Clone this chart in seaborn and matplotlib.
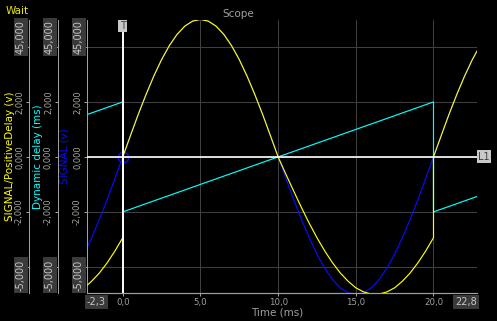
import matplotlib
matplotlib.use('Agg')
import matplotlib.pyplot as plt
import seaborn as sns
from matplotlib.transforms import blended_transform_factory

# ---------------- data ----------------
time_signal = [-2.3, -2.0, -1.5, -1.0, -0.5, 0.0, 0.5, 1.0, 1.5, 2.0, 2.5, 3.0, 3.5, 4.0, 4.5,
               5.0, 5.5, 6.0, 6.5, 7.0, 7.5, 8.0, 8.5, 9.0, 9.5, 10.0, 10.5, 11.0, 11.5, 12.0,
               12.5, 13.0, 13.5, 14.0, 14.5, 15.0, 15.5, 16.0, 16.5, 17.0, 17.5, 18.0, 18.5,
               19.0, 19.5, 20.0, 20.5, 21.0, 21.5, 22.0, 22.5, 22.8]
signal_v = [-3.31, -2.94, -2.27, -1.55, -0.78, 0.00, 0.78, 1.55, 2.27, 2.94, 3.54, 4.05, 4.46,
            4.76, 4.94, 5.00, 4.94, 4.76, 4.46, 4.05, 3.54, 2.94, 2.27, 1.55, 0.78, 0.00, -0.78,
            -1.55, -2.27, -2.94, -3.54, -4.05, -4.46, -4.76, -4.94, -5.00, -4.94, -4.76, -4.46,
            -4.05, -3.54, -2.94, -2.27, -1.55, -0.78, 0.00, 0.78, 1.55, 2.27, 2.94, 3.54, 3.85]

time_positive = [-2.3, -2.0, -1.5, -1.0, -0.5, 0.0, 0.0, 0.5, 1.0, 1.5, 2.0, 2.5, 3.0, 3.5, 4.0,
                 4.5, 5.0, 5.5, 6.0, 6.5, 7.0, 7.5, 8.0, 8.5, 9.0, 9.5, 10.0, 10.5, 11.0, 11.5,
                 12.0, 12.5, 13.0, 13.5, 14.0, 14.5, 15.0, 15.5, 16.0, 16.5, 17.0, 17.5, 18.0,
                 18.5, 19.0, 19.5, 20.0, 20.0, 20.5, 21.0, 21.5, 22.0, 22.5, 22.8]
positive_delay_v = [-4.67, -4.52, -4.22, -3.85, -3.42, -2.94, 0.00, 0.78, 1.55, 2.27, 2.94, 3.54,
                    4.05, 4.46, 4.76, 4.94, 5.00, 4.94, 4.76, 4.46, 4.05, 3.54, 2.94, 2.27, 1.55,
                    0.78, 0.00, -0.63, -1.24, -1.84, -2.41, -2.94, -3.42, -3.85, -4.22, -4.52,
                    -4.76, -4.91, -4.99, -4.99, -4.91, -4.76, -4.52, -4.22, -3.85, -3.42, -2.94,
                    0.00, 0.78, 1.55, 2.27, 2.94, 3.54, 3.85]

time_delay = [-2.3, 0.0, 0.0, 20.0, 20.0, 22.8]
dynamic_delay_ms = [1.54, 2.00, -2.00, 2.00, -2.00, -1.44]

trigger_time = 0.0
trigger_level = 0.0

x_range = [-2.3, 22.8]
x_range_labels = ['-2,3', '22,8']
x_ticks = [0, 5, 10, 15, 20]
x_tick_labels = ['0,0', '5,0', '10,0', '15,0', '20,0']
y_range = [-4.95, 4.98]
y_ticks = [-4, -2, 0, 2, 4]
y_tick_labels = ['', '-2,000', '0,000', '2,000', '']
y_end_labels = ['45,000', '-5,000']

# ---------------- style ----------------
sns.set_theme(style='dark')
plt.rcParams['font.family'] = ['DejaVu Sans']

PX = 0.72  # points per pixel at dpi=100
W, H = 497, 321
GRAY = '#a0a0a0'
YELLOW = '#ffff00'
CYAN = '#00ffff'
BLUE = '#0a0aff'

fig = plt.figure(figsize=(W / 100, H / 100), dpi=100, facecolor='black')
ax = fig.add_axes([87 / W, 28 / H, 390 / W, 273 / H])
ax.set_facecolor('black')
tw_delay = ax.twinx()
tw_pos = ax.twinx()

axes_list = [(ax, 0, 'SIGNAL (v)', BLUE, -0.046),
             (tw_delay, 29, 'Dynamic delay (ms)', CYAN, -0.112),
             (tw_pos, 58, 'SIGNAL/PositiveDelay (v)', YELLOW, -0.184)]

for a, off, lab, col, lx in axes_list:
    a.set_xlim(x_range)
    a.set_ylim(y_range)
    for s in ['top', 'right', 'bottom']:
        a.spines[s].set_visible(False)
    a.spines['left'].set_visible(True)
    a.spines['left'].set_color(GRAY)
    a.spines['left'].set_linewidth(1.0 * PX)
    if a is not ax:
        a.yaxis.tick_left()
        a.yaxis.set_label_position('left')
        a.spines['left'].set_position(('outward', off * PX))
    a.set_yticks(y_ticks)
    a.set_yticklabels(y_tick_labels, rotation=90, va='center')
    a.tick_params(axis='y', which='both', left=True, right=False, direction='out',
                  length=3 * PX, width=PX, color=GRAY, pad=2 * PX,
                  labelsize=6, labelcolor='#a8a8a0')
    a.set_ylabel(lab, color=col, fontsize=7.5)
    a.yaxis.set_label_coords(lx, 0.5)
    # boxed end-of-range labels
    sx = 87 - off
    fig.text((sx - 8) / W, 1 - 37 / H, y_end_labels[0], rotation=90, ha='center', va='center',
             fontsize=7, color='#c8c8c8',
             bbox=dict(boxstyle='square,pad=0.2', facecolor='#3a3a3a', edgecolor='none'))
    fig.text((sx - 8) / W, 1 - 275 / H, y_end_labels[1], rotation=90, ha='center', va='center',
             fontsize=7, color='#c8c8c8',
             bbox=dict(boxstyle='square,pad=0.2', facecolor='#3a3a3a', edgecolor='none'))

ax.spines['bottom'].set_visible(True)
ax.spines['bottom'].set_color(GRAY)
ax.spines['bottom'].set_linewidth(1.2 * PX)
ax.set_xticks(x_ticks)
ax.set_xticklabels(x_tick_labels)
ax.tick_params(axis='x', bottom=True, direction='out', length=3 * PX, width=PX, color=GRAY,
               pad=1.5, labelsize=6.2, labelcolor=GRAY)
ax.grid(True, color='#404040', linewidth=PX)
ax.set_axisbelow(True)
ax.set_xlabel('Time (ms)', color=GRAY, fontsize=7.5)
ax.xaxis.set_label_coords(0.487, -0.052)

# ---------------- data lines ----------------
sns.lineplot(x=time_signal, y=signal_v, ax=ax, estimator=None, sort=False,
             color=BLUE, linewidth=0.85)
sns.lineplot(x=time_delay, y=dynamic_delay_ms, ax=tw_delay, estimator=None, sort=False,
             color=CYAN, linewidth=0.85)
sns.lineplot(x=time_positive, y=positive_delay_v, ax=tw_pos, estimator=None, sort=False,
             color=YELLOW, linewidth=0.85)
ax.plot([trigger_time], [trigger_level], marker='o', mfc='none', mec=BLUE, ms=7.5, mew=1.0,
        linestyle='none')

for a in [ax, tw_delay, tw_pos]:
    a.set_xlim(x_range)
    a.set_ylim(y_range)

tw_pos.axvline(trigger_time, color='white', linewidth=1.4, zorder=6)
tw_pos.axhline(trigger_level, color='white', linewidth=1.2, zorder=6)

# ---------------- annotations ----------------
tr_top = blended_transform_factory(ax.transData, fig.transFigure)
tw_pos.text(trigger_time, 1 - 26 / H, 'T', transform=tr_top, ha='center', va='center',
            fontsize=7, color='#404040', zorder=7,
            bbox=dict(boxstyle='square,pad=0.15', facecolor='#c8c8c8', edgecolor='none'))
tr_right = blended_transform_factory(ax.transAxes, ax.transData)
tw_pos.text(1.003, trigger_level, 'L1', transform=tr_right, ha='left', va='center',
            fontsize=7, color='#404040', zorder=7,
            bbox=dict(boxstyle='square,pad=0.15', facecolor='#c8c8c8', edgecolor='none'),
            clip_on=False)

tr_bot = blended_transform_factory(ax.transData, fig.transFigure)
ax.text(x_range[0], 1 - 302 / H, x_range_labels[0], transform=tr_bot, ha='left', va='center',
        fontsize=7, color='#c8c8c8', clip_on=False,
        bbox=dict(boxstyle='square,pad=0.25', facecolor='#3a3a3a', edgecolor='none'))
ax.text(x_range[1], 1 - 302 / H, x_range_labels[1], transform=tr_bot, ha='right', va='center',
        fontsize=7, color='#c8c8c8', clip_on=False,
        bbox=dict(boxstyle='square,pad=0.25', facecolor='#3a3a3a', edgecolor='none'))

fig.text(238 / W, 1 - 14 / H, 'Scope', ha='center', va='center', color=GRAY, fontsize=7.5)
fig.text(6 / W, 1 - 11 / H, 'Wait', ha='left', va='center', color='#e8e800', fontsize=7.5)

fig.savefig('out.png', dpi=100, facecolor='black')
